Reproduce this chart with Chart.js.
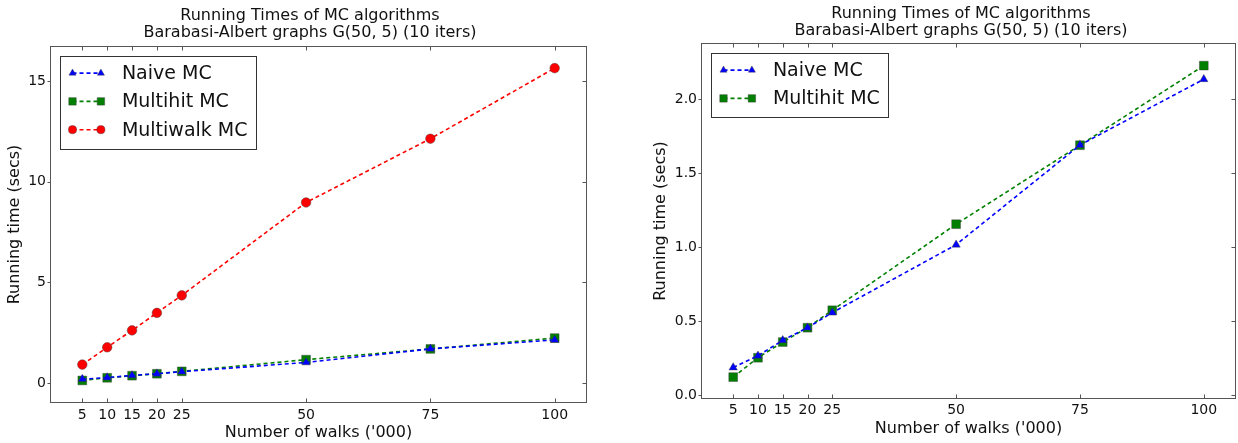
<!DOCTYPE html>
<html><head><meta charset="utf-8">
<script src="https://cdn.jsdelivr.net/npm/chart.js@4/dist/chart.umd.min.js"></script>
<style>
html,body{margin:0;padding:0;background:#fff;}
#wrap{position:relative;width:1238px;height:443px;overflow:hidden;background:#fff;}
canvas{position:absolute;top:0;}
</style></head><body>
<div id="wrap">
<canvas id="c1" width="620" height="443" style="left:0;width:620px;height:443px"></canvas>
<canvas id="c2" width="682" height="443" style="left:620px;width:682px;height:443px"></canvas>
</div>
<script>
// ---- data ----
const walks = [5, 10, 15, 20, 25, 50, 75, 100];
const naiveMC = [0.186, 0.265, 0.37, 0.455, 0.557, 1.016, 1.69, 2.135];
const multihitMC = [0.121, 0.252, 0.358, 0.455, 0.573, 1.155, 1.689, 2.227];
const multiwalkMC = [0.91, 1.77, 2.61, 3.48, 4.35, 8.97, 12.14, 15.65];
const xTicks = [5, 10, 15, 20, 25, 50, 75, 100];
const yTicksLeft = [0, 5, 10, 15];
const yTicksRight = [0, 0.5, 1.0, 1.5, 2.0];
const titleLines = ['Running Times of MC algorithms', 'Barabasi-Albert graphs G(50, 5) (10 iters)'];
const xLabel = "Number of walks ('000)";
const yLabel = 'Running time (secs)';
const seriesNames = ['Naive MC', 'Multihit MC', 'Multiwalk MC'];

Chart.defaults.font.family = "'DejaVu Sans', 'Liberation Sans', sans-serif";
Chart.defaults.color = '#111';
Chart.defaults.animation = false;

function pts(vals) { return walks.map((w, i) => ({x: w, y: vals[i]})); }

function ds(label, vals, color, style, r) {
  return {
    label: label, data: pts(vals), yAxisID: 'y',
    borderColor: color, backgroundColor: color,
    borderWidth: 1.6, borderDash: [4, 3],
    pointStyle: style, pointRadius: r, pointHoverRadius: r,
    pointBackgroundColor: color, pointBorderColor: 'rgba(60,60,60,0.55)', pointBorderWidth: 0.8,
    fill: false, tension: 0
  };
}

function drawMarker(ctx, style, r, x, y) {
  ctx.beginPath();
  if (style === 'circle') {
    ctx.arc(x, y, r, 0, Math.PI * 2);
  } else if (style === 'rect') {
    const s = r * Math.SQRT1_2;
    ctx.rect(x - s, y - s, 2 * s, 2 * s);
  } else {
    let a = 0;
    ctx.moveTo(x + Math.sin(a) * r, y - Math.cos(a) * r);
    a += 2 * Math.PI / 3;
    ctx.lineTo(x + Math.sin(a) * r, y - Math.cos(a) * r);
    a += 2 * Math.PI / 3;
    ctx.lineTo(x + Math.sin(a) * r, y - Math.cos(a) * r);
    ctx.closePath();
  }
  ctx.fill();
  ctx.stroke();
}

const framePlugin = {
  id: 'frame',
  afterDatasetsDraw(chart) {
    const {ctx, chartArea: a, scales} = chart;
    ctx.save();
    ctx.strokeStyle = '#555';
    ctx.lineWidth = 1;
    const L = Math.round(a.left) + 0.5, R = Math.round(a.right) - 0.5;
    const T = Math.round(a.top) + 0.5, B = Math.round(a.bottom) - 0.5;
    ctx.strokeRect(L, T, R - L, B - T);
    ctx.beginPath();
    scales.x.ticks.forEach(t => {
      const px = Math.round(scales.x.getPixelForValue(t.value)) + 0.5;
      ctx.moveTo(px, B); ctx.lineTo(px, B - 4);
      ctx.moveTo(px, T); ctx.lineTo(px, T + 4);
    });
    scales.y.ticks.forEach(t => {
      const py = Math.round(scales.y.getPixelForValue(t.value)) + 0.5;
      ctx.moveTo(L, py); ctx.lineTo(L - 3, py);
      ctx.moveTo(R, py); ctx.lineTo(R - 4, py);
    });
    ctx.stroke();
    ctx.restore();
  }
};

const boxLegendPlugin = {
  id: 'boxLegend',
  afterDraw(chart) {
    const {ctx, chartArea: a} = chart;
    const sets = chart.data.datasets;
    const fs = 19;
    ctx.save();
    ctx.font = fs + "px 'DejaVu Sans', sans-serif";
    let maxW = 0;
    sets.forEach(d => { maxW = Math.max(maxW, ctx.measureText(d.label).width); });
    const bx = a.left + 9.5, by = a.top + 9.5;
    const rowH = 28.3;
    const bw = 62 + maxW + 8;
    const bh = 17.6 + (sets.length - 1) * rowH + 18.5;
    ctx.fillStyle = '#fff';
    ctx.fillRect(bx, by, bw, bh);
    ctx.strokeStyle = '#333';
    ctx.lineWidth = 1;
    ctx.strokeRect(Math.round(bx) + 0.5, Math.round(by) + 0.5, Math.round(bw), Math.round(bh));
    sets.forEach((d, i) => {
      const y = by + 17.6 + i * rowH;
      const x1 = bx + 13, x2 = bx + 41.4;
      ctx.strokeStyle = d.borderColor;
      ctx.lineWidth = 1.6;
      ctx.setLineDash([4, 3]);
      ctx.beginPath(); ctx.moveTo(x1, y); ctx.lineTo(x2, y); ctx.stroke();
      ctx.setLineDash([]);
      ctx.fillStyle = d.pointBackgroundColor;
      ctx.strokeStyle = d.pointBorderColor;
      ctx.lineWidth = 0.8;
      const r = d.pointRadius * 0.85;
      drawMarker(ctx, d.pointStyle, r, x1, y);
      drawMarker(ctx, d.pointStyle, r, x2, y);
      ctx.fillStyle = '#111';
      ctx.textBaseline = 'middle';
      ctx.textAlign = 'left';
      ctx.fillText(d.label, bx + 62.4, y + 1);
    });
    ctx.restore();
  }
};

function makeChart(id, datasets, cfg) {
  return new Chart(document.getElementById(id), {
    type: 'line',
    data: {datasets: datasets},
    options: {
      responsive: false,
      animation: false,
      layout: {padding: {left: 0, right: 0, top: 0, bottom: 0}},
      plugins: {
        legend: {display: false},
        tooltip: {enabled: false},
        title: {
          display: true, text: titleLines, color: '#111',
          font: {size: 16, weight: 'normal', lineHeight: 17 / 16},
          padding: cfg.titlePad
        }
      },
      scales: {
        x: {
          type: 'linear', min: -1.5, max: 106.5,
          afterBuildTicks: s => { s.ticks = xTicks.map(v => ({value: v})); },
          afterFit: s => { s.height = cfg.xH; },
          grid: {display: false, drawTicks: false},
          border: {display: false},
          ticks: {autoSkip: false, maxRotation: 0, padding: cfg.xTickPad, font: {size: 14}, color: '#111',
                  callback: v => String(v)},
          title: {display: true, text: xLabel, font: {size: 16}, color: '#111', padding: {top: 0, bottom: cfg.xTitlePad}}
        },
        y: {
          type: 'linear', position: 'left', min: cfg.yMin, max: cfg.yMax,
          afterBuildTicks: s => { s.ticks = cfg.yTicks.map(v => ({value: v})); },
          afterFit: s => { s.width = cfg.yW; },
          grid: {display: false, drawTicks: false},
          border: {display: false},
          ticks: {padding: 4, font: {size: 14}, color: '#111', callback: cfg.yFmt},
          title: {display: true, text: yLabel, font: {size: 16}, color: '#111', padding: {top: cfg.yTitlePad, bottom: 0}}
        },
        yr: {
          type: 'linear', position: 'right', min: 0, max: 1,
          afterFit: s => { s.width = cfg.rightW; },
          grid: {display: false, drawTicks: false},
          border: {display: false},
          ticks: {display: false},
          title: {display: false}
        }
      }
    },
    plugins: [framePlugin, boxLegendPlugin]
  });
}

makeChart('c1', [
  ds(seriesNames[0], naiveMC, '#0000ff', 'triangle', 4.8),
  ds(seriesNames[1], multihitMC, '#007f00', 'rect', 6.2),
  ds(seriesNames[2], multiwalkMC, '#ff0000', 'circle', 4.8)
], {
  rightW: 33,
  titlePad: {top: 7.5, bottom: 4.5},
  xH: 40, xTickPad: 4, xTitlePad: 0.5,
  yW: 50, yTitlePad: 5.4,
  yMin: -1, yMax: 16.75, yTicks: yTicksLeft,
  yFmt: v => String(v)
});

makeChart('c2', [
  ds(seriesNames[0], naiveMC, '#0000ff', 'triangle', 4.8),
  ds(seriesNames[1], multihitMC, '#007f00', 'rect', 6.2)
], {
  rightW: 66,
  titlePad: {top: 5.5, bottom: 3.5},
  xH: 44, xTickPad: 3, xTitlePad: 4.4,
  yW: 81, yTitlePad: 31,
  yMin: -0.027, yMax: 2.38, yTicks: yTicksRight,
  yFmt: v => Number(v).toFixed(1)
});
</script>
</body></html>
